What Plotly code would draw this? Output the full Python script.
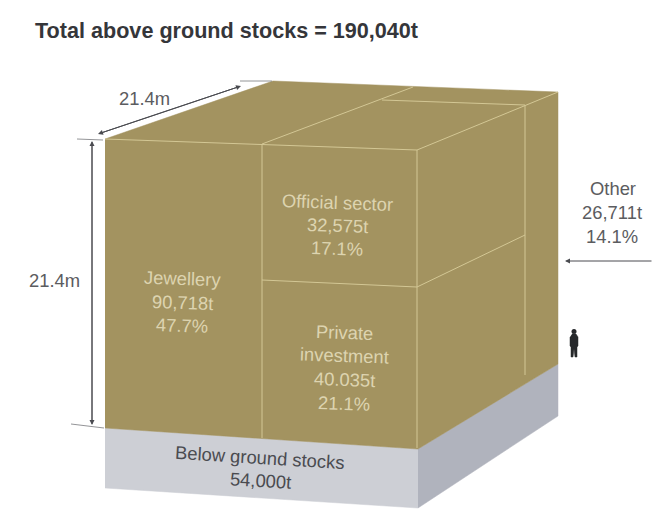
import plotly.graph_objects as go

TITLE = "Total above ground stocks = 190,040t"
SIDE_LENGTH = "21.4m"

categories = ["Jewellery", "Official sector", "Private investment", "Other", "Below ground stocks"]
tonnes = ["90,718t", "32,575t", "40.035t", "26,711t", "54,000t"]
shares = ["47.7%", "17.1%", "21.1%", "14.1%", None]

GOLD = "#A39360"
SEAM = "#D3C795"
CREAM = "#DDD4B0"
INK = "#5B5C60"
BASE_FRONT = "#CDCFD5"
BASE_SIDE = "#B0B3BD"

# Solid faces of the block and its plinth, in page pixels
faces = [
    (BASE_FRONT, [(105, 428), (418, 449), (418, 508), (105, 488)]),
    (BASE_SIDE, [(418, 449), (558, 364), (558, 416), (418, 508)]),
    (GOLD, [(105, 139), (273, 81), (558, 92), (558, 364), (418, 449), (105, 428)]),
]

# Seams that divide the block between holders
seams = [
    [(105, 139), (417, 150)],
    [(417, 150), (558, 92)],
    [(417, 150), (417, 448)],
    [(262, 144), (262, 438)],
    [(262, 280), (417, 287)],
    [(417, 287), (525, 235)],
    [(525, 105), (525, 375)],
    [(262, 144), (413, 87)],
    [(382, 100), (525, 105)],
]

# Thin end stops of the dimension arrows
stops = [
    [(77, 139), (103, 140)],
    [(240, 81), (272, 81)],
    [(71, 424), (104, 428)],
]

# Dimension arrows: tail, head
arrows = [
    ((92, 425), (92, 141)),
    ((92, 141), (92, 425)),
    ((241, 86), (98, 134)),
    ((98, 134), (241, 86)),
    ((653, 261), (565, 261)),
]

figure_outline = [
    (572, 334), (576, 334), (578, 337), (578, 346), (577, 347), (577, 357),
    (575, 357), (574, 349), (573, 357), (571, 357), (571, 347), (570, 346), (570, 337),
]

fig = go.Figure()

for colour, corners in faces:
    fig.add_trace(go.Scatter(
        x=[p[0] for p in corners], y=[p[1] for p in corners],
        mode="lines", fill="toself", fillcolor=colour,
        line=dict(color=colour, width=0.5), hoverinfo="skip",
    ))

for a, b in seams:
    fig.add_trace(go.Scatter(
        x=[a[0], b[0]], y=[a[1], b[1]], mode="lines",
        line=dict(color=SEAM, width=1), hoverinfo="skip",
    ))

for a, b in stops:
    fig.add_trace(go.Scatter(
        x=[a[0], b[0]], y=[a[1], b[1]], mode="lines",
        line=dict(color="#77787C", width=0.8), hoverinfo="skip",
    ))

fig.add_trace(go.Scatter(
    x=[p[0] for p in figure_outline], y=[p[1] for p in figure_outline],
    mode="lines", fill="toself", fillcolor="#26282B",
    line=dict(color="#26282B", width=0.5), hoverinfo="skip",
))
fig.add_trace(go.Scatter(
    x=[574], y=[331.5], mode="markers",
    marker=dict(size=5, color="#26282B"), hoverinfo="skip",
))

annotations = []


def label(x, y, text, colour=INK, size=18.4, angle=0, weight=None, anchor="center"):
    annotations.append(dict(
        x=x, y=y, text=f"<b>{text}</b>" if weight else text, showarrow=False,
        xref="x", yref="y", xanchor=anchor, yanchor="middle", textangle=angle,
        font=dict(family="Liberation Sans, Arial, sans-serif", size=size, color=colour),
    ))


label(33, 30, TITLE, colour="#35363A", size=21.6, weight=True, anchor="left")
label(144, 98, SIDE_LENGTH)
label(54.5, 280, SIDE_LENGTH)

label(182, 278, categories[0], CREAM, angle=2)
label(182, 302, tonnes[0], CREAM, angle=2)
label(182, 325, shares[0], CREAM, angle=2)

label(337, 202, categories[1], CREAM, angle=2)
label(337, 225, tonnes[1], CREAM, angle=2)
label(337, 248, shares[1], CREAM, angle=2)

first, second = categories[2].split(" ")
label(344, 332, first, CREAM, angle=2)
label(344, 355, second, CREAM, angle=2)
label(344, 379, tonnes[2], CREAM, angle=2)
label(344, 403, shares[2], CREAM, angle=2)

label(613, 188, categories[3])
label(612, 212, tonnes[3])
label(612, 236, shares[3])

label(260, 457, categories[4], "#4A4B50", angle=3.5)
label(260, 480, tonnes[4], "#4A4B50", angle=3.5)

for tail, head in arrows:
    annotations.append(dict(
        x=head[0], y=head[1], ax=tail[0], ay=tail[1],
        xref="x", yref="y", axref="x", ayref="y", text="",
        showarrow=True, arrowhead=2, arrowsize=1, arrowwidth=1, arrowcolor="#4A4B50",
    ))

fig.update_layout(
    width=653, height=523, margin=dict(l=0, r=0, t=0, b=0),
    paper_bgcolor="white", plot_bgcolor="white", showlegend=False,
    xaxis=dict(range=[0, 653], visible=False, fixedrange=True),
    yaxis=dict(range=[523, 0], visible=False, fixedrange=True),
    annotations=annotations,
)

fig.write_html("out.html", config={"displayModeBar": False})
